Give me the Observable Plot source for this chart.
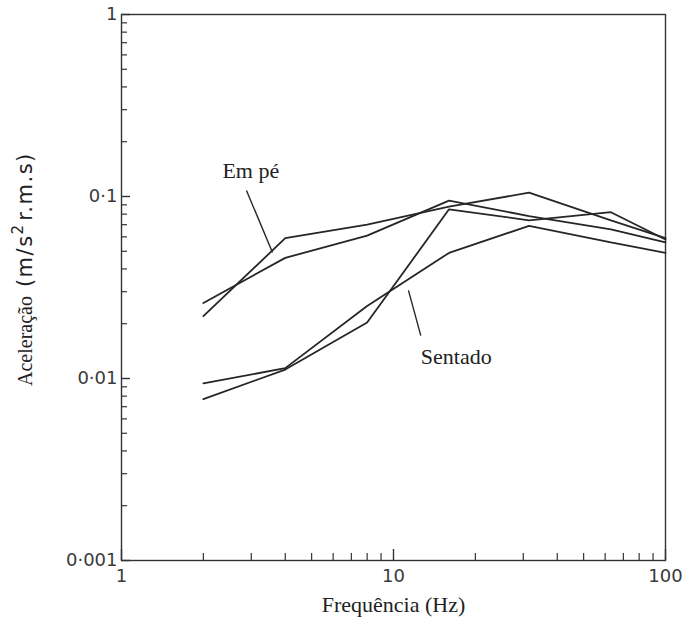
<!DOCTYPE html>
<html>
<head>
<meta charset="utf-8">
<script src="https://cdn.jsdelivr.net/npm/d3@7"></script>
<script src="https://cdn.jsdelivr.net/npm/@observablehq/plot@0.6"></script>
<style>
  html, body { margin: 0; padding: 0; background: #fff; }
  #chart { width: 684px; height: 622px; }
</style>
</head>
<body>
<div id="chart"></div>
<script>
// Third-octave centre frequencies (Hz) at which the curves are given
const freqs = [2, 4, 8, 16, 31.5, 63, 100];

// Acceleration (m/s² r.m.s) for each curve
const emPe1    = [0.022, 0.059, 0.070, 0.088, 0.105, 0.074, 0.059];
const emPe2    = [0.026, 0.046, 0.061, 0.095, 0.078, 0.066, 0.056];
const sentado1 = [0.0094, 0.0114, 0.025, 0.049, 0.069, 0.056, 0.049];
const sentado2 = [0.0077, 0.0112, 0.0203, 0.085, 0.074, 0.082, 0.058];

// Axis ticks and their labels
const yTicks = [0.001, 0.01, 0.1, 1];
const yTickLabels = ["0·001", "0·01", "0·1", "1"];
const xTicks = [1, 10, 100];
const xTickLabels = ["1", "10", "100"];
const xTitle = "Frequência (Hz)";

// Curve labels with their leader lines (data coordinates)
const labelNames = ["Em pé", "Sentado"];
const labelX = [2.35, 12.6];
const labelY = [0.139, 0.0132];
const leaderX1 = [2.88, 11.35];
const leaderY1 = [0.108, 0.0305];
const leaderX2 = [3.59, 12.6];
const leaderY2 = [0.0492, 0.0172];

const series = [
  { name: "Em pé 1", values: emPe1 },
  { name: "Em pé 2", values: emPe2 },
  { name: "Sentado 1", values: sentado1 },
  { name: "Sentado 2", values: sentado2 }
];
const rows = series.flatMap(s => freqs.map((f, i) => ({ serie: s.name, f, a: s.values[i] })));
const labels = labelNames.map((t, i) => ({ t, x: labelX[i], y: labelY[i] }));
const leaders = labelNames.map((t, i) => ({ x1: leaderX1[i], y1: leaderY1[i], x2: leaderX2[i], y2: leaderY2[i] }));

// Minor log ticks (2..9 in each decade)
const minorY = [-3, -2, -1].flatMap(e => d3.range(2, 10).map(m => +(m * Math.pow(10, e)).toPrecision(3)));
const minorX = [1, 10].flatMap(e => d3.range(2, 10).map(m => m * e));

const W = 684, H = 622, mL = 121, mR = 19, mT = 14, mB = 62;
const plotW = W - mL - mR, plotH = H - mT - mB;
const ink = "#262626";
const sans = "DejaVu Sans, Liberation Sans, sans-serif";
const serif = "'Liberation Serif', 'Times New Roman', Times, 'DejaVu Serif', serif";

const chart = Plot.plot({
  width: W,
  height: H,
  marginLeft: mL,
  marginRight: mR,
  marginTop: mT,
  marginBottom: mB,
  x: { type: "log", domain: [1, 100], axis: null },
  y: { type: "log", domain: [0.001, 1], axis: null },
  style: { background: "#fff", overflow: "visible" },
  marks: [
    Plot.frame({ stroke: "#333", strokeWidth: 1.4 }),
    // inward ticks on the left and bottom edges
    Plot.tickY(minorY, { y: d => d, insetRight: plotW - 6, stroke: "#333", strokeWidth: 1.2 }),
    Plot.tickY(yTicks, { y: d => d, insetRight: plotW - 9, stroke: "#333", strokeWidth: 1.4 }),
    Plot.tickX(minorX, { x: d => d, insetTop: plotH - 7, stroke: "#333", strokeWidth: 1.2 }),
    Plot.tickX(xTicks, { x: d => d, insetTop: plotH - 11, stroke: "#333", strokeWidth: 1.4 }),
    // tick labels
    Plot.text(yTicks, {
      y: d => d, text: (d, i) => yTickLabels[i], frameAnchor: "left", textAnchor: "end",
      dx: -4, fontSize: 18, fontFamily: sans, fill: "#3a3a3a"
    }),
    Plot.text(xTicks, {
      x: d => d, text: (d, i) => xTickLabels[i], frameAnchor: "bottom", lineAnchor: "top",
      dy: 9, fontSize: 18, fontFamily: sans, fill: "#3a3a3a"
    }),
    Plot.text([xTitle], {
      frameAnchor: "bottom", lineAnchor: "top", dy: 36, fontSize: 22, fill: "#222"
    }),
    // curves
    Plot.line(rows, { x: "f", y: "a", z: "serie", stroke: ink, strokeWidth: 1.8, strokeLinejoin: "miter" }),
    // curve labels
    Plot.link(leaders, { x1: "x1", y1: "y1", x2: "x2", y2: "y2", stroke: ink, strokeWidth: 1.4 }),
    Plot.text(labels, {
      x: "x", y: "y", text: "t", textAnchor: "start", fontSize: 22, fill: "#222"
    })
  ]
});

const svg = d3.select(chart);

// Serif face for the axis title and curve labels
const serifTexts = new Set([xTitle, ...labelNames]);
svg.selectAll("text").filter(function () { return serifTexts.has(this.textContent); })
  .style("font-family", serif);

// Y-axis title with mixed typefaces and a superscript
const title = svg.append("text")
  .attr("transform", "translate(32,386) rotate(-90)")
  .attr("text-anchor", "start")
  .attr("fill", "#222");
title.append("tspan").style("font-family", serif).style("font-size", "20px").text("Aceleração");
title.append("tspan").style("font-family", sans).style("font-size", "21px").style("letter-spacing", "1.5px")
  .attr("dx", 9).text("(m/s");
title.append("tspan").style("font-family", sans).style("font-size", "15px").attr("dy", -9).text("2");
title.append("tspan").style("font-family", sans).style("font-size", "21px").style("letter-spacing", "1.5px")
  .attr("dy", 9).attr("dx", 4).text("r.m.s)");

document.getElementById("chart").appendChild(chart);
</script>
</body>
</html>
